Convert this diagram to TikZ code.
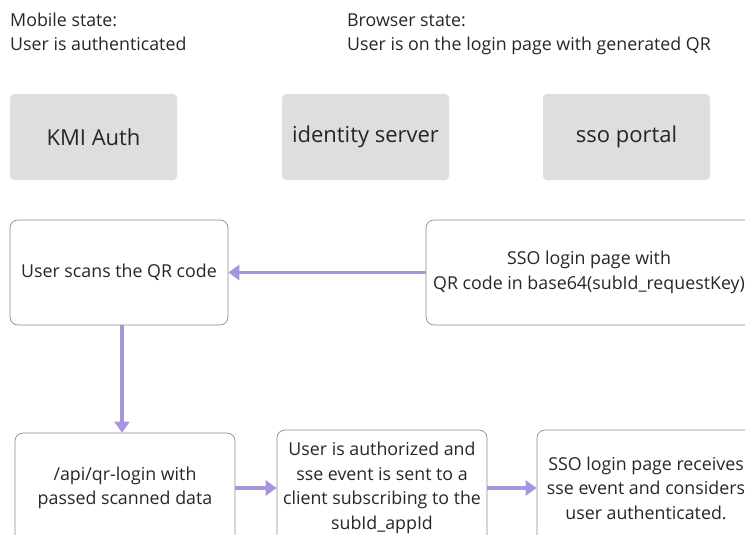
\documentclass[tikz,border=0pt]{standalone}
\usepackage{fontspec}
\setmainfont{Open Sans}
\usetikzlibrary{arrows.meta}

\definecolor{flow}{RGB}{167,150,221}
\definecolor{lane}{RGB}{222,222,222}
\definecolor{edge}{RGB}{140,140,140}

\tikzset{
  lanebox/.style={fill=lane, rounded corners=4pt, minimum width=167pt, minimum height=86pt,
    font=\fontsize{22}{26}\selectfont, text=black!85},
  stepbox/.style={draw=edge, line width=0.7pt, rounded corners=8pt, align=center,
    font=\fontsize{17.8}{24.5}\selectfont, text=black!85},
  note/.style={anchor=base west, inner sep=0pt, font=\fontsize{17.8}{20}\selectfont, text=black!85},
  flowarrow/.style={draw=flow, line width=3.4pt, -{Triangle[length=11pt,width=15pt]}}
}

\begin{document}
\begin{tikzpicture}[x=1pt, y=-1pt]
\useasboundingbox (0,0) rectangle (745,535);
\clip (0,0) rectangle (745,535);

\node[note] (mobhead) at (10,27) {Mobile state:};
\node[note] (mobstate) at (10,51) {User is authenticated};
\node[note] (brwhead) at (347,27) {Browser state:};
\node[note] (brwstate) at (347,51) {User is on the login page with generated QR};

\node[lanebox] (kmi) at (93.5,137) {KMI Auth};
\node[lanebox] (idsrv) at (365.5,137) {identity server};
\node[lanebox] (sso) at (626.5,137) {sso portal};

\node[stepbox, minimum width=218pt, minimum height=105pt] (scan) at (119,272.5) {User scans the QR code};
\node[stepbox, minimum width=326pt, minimum height=105pt] (qrpage) at (589,272.5) {SSO login page with\\QR code in base64(subId\_requestKey)};

\node[stepbox, minimum width=220pt, minimum height=110pt] (api) at (125,488) {/api/qr-login with\\passed scanned data};
\node[stepbox, minimum width=210pt, minimum height=116pt] (authz) at (382,488) {User is authorized and\\sse event is sent to a\\client subscribing to the\\subId\_appId};
\node[stepbox, minimum width=218pt, minimum height=116pt] (done) at (646,488) {SSO login page receives\\sse event and considers\\user authenticated.};

\coordinate (scandown) at ([xshift=3pt]scan.south);

\foreach \from/\to in {qrpage/scan, api/authz, authz/done}
  \draw[flowarrow] (\from) -- (\to);
\draw[flowarrow] (scandown) -- (scandown |- api.north);

\end{tikzpicture}
\end{document}
